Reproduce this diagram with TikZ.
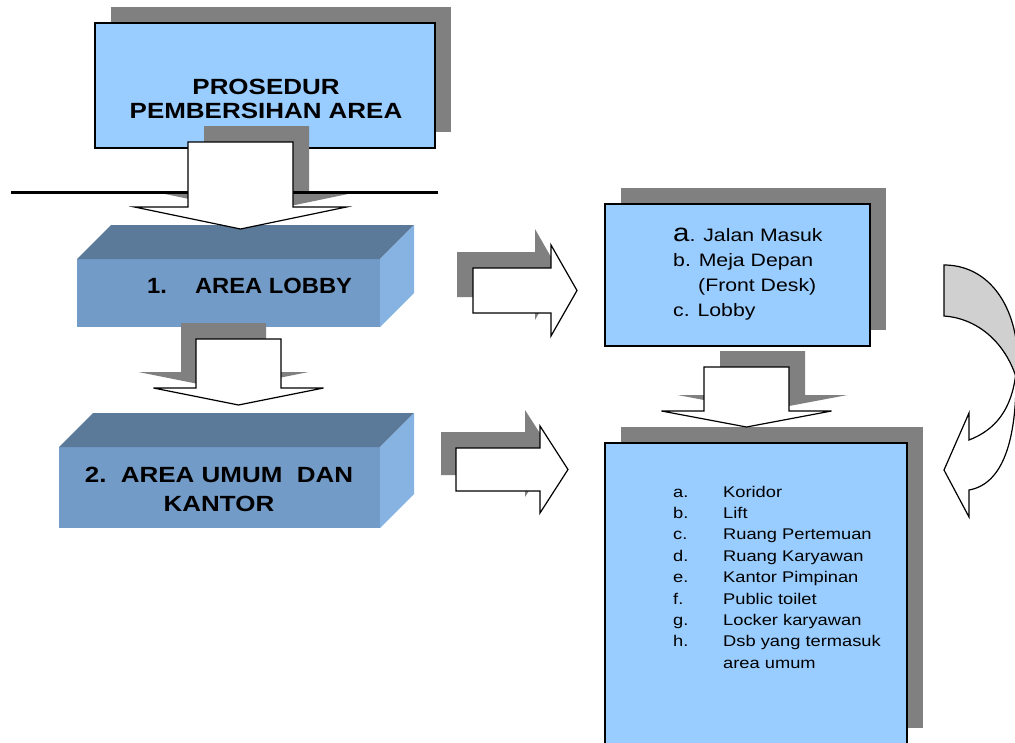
\documentclass[tikz,border=0pt]{standalone}
\usepackage{fontspec}
\setmainfont{Liberation Sans}[FakeStretch=1.18]
\newfontfamily\lobbyfont{Liberation Sans}[FakeStretch=1.08]
\usepackage{tikz}
\usetikzlibrary{shadows}
\definecolor{boxblue}{RGB}{153,204,255}
\definecolor{shadegray}{RGB}{128,128,128}
\definecolor{faceFront}{RGB}{115,155,199}
\definecolor{faceTop}{RGB}{91,121,152}
\definecolor{faceSide}{RGB}{134,179,225}
\definecolor{curvegray}{RGB}{208,208,208}

% block arrows: #1 start, #2 shaft half width, #3 shaft length,
% #4 head half width, #5 head length, #6 style
\newcommand{\downblock}[6]{%
  \path[#6] (#1) ++(-#2,0) -- ++(0,#3) -- ++({#2-#4},0) -- ++(#4,#5)
    -- ++(#4,-#5) -- ++({#2-#4},0) -- ++(0,-#3) -- cycle;}
\newcommand{\rightblock}[6]{%
  \path[#6] (#1) ++(0,-#2) -- ++(#3,0) -- ++(0,{#2-#4}) -- ++(#5,#4)
    -- ++(-#5,#4) -- ++(0,{#2-#4}) -- ++(-#3,0) -- cycle;}

\begin{document}
\begin{tikzpicture}[x=1pt,y=-1pt,
    shade/.style={fill=shadegray,draw=none},
    blockarrow/.style={fill=white,draw=black,line width=1.2pt,line join=miter},
    listbox/.style={draw=black,line width=1.8pt,fill=boxblue,inner sep=0pt,outer sep=0pt,
      drop shadow={shadow xshift=16pt,shadow yshift=16pt,fill=shadegray,draw=none,opacity=1}},
    front/.style={fill=faceFront,inner sep=0pt,outer sep=0pt},
    bigtext/.style={inner sep=0pt,font=\fontsize{22}{24}\selectfont\bfseries}]
    \useasboundingbox (0,0) rectangle (1015,742);
    \clip (0,0) rectangle (1015,742);

    % Title box
    \node[listbox,line width=1.5pt,minimum width=340pt,minimum height=125pt] (title) at (265,85.5) {};
    \node[bigtext,anchor=base] (titletxt) at (266,94)
      {\begin{tabular}[t]{@{}c@{}}PROSEDUR\\PEMBERSIHAN AREA\end{tabular}};

    % 3D area boxes
    \node[front,minimum width=303pt,minimum height=68pt] (lobby) at (228.5,293) {};
    \node[front,minimum width=321pt,minimum height=81pt] (umum) at (219.5,487.5) {};
    \foreach \b in {lobby,umum} {
      \fill[faceTop] (\b.north west) -- ++(34,-34) -- ([shift={(34,-34)}]\b.north east) -- (\b.north east) -- cycle;
      \fill[faceSide] (\b.north east) -- ++(34,-34) -- ([shift={(34,-34)}]\b.south east) -- (\b.south east) -- cycle;
    }
    \node[inner sep=0pt,anchor=base west,font=\fontsize{22}{24}\selectfont\lobbyfont\bfseries] (lobbytxt) at (147,293)
      {1.\hspace{28pt}AREA LOBBY};
    \node[inner sep=0pt,anchor=base,font=\fontsize{22}{29}\selectfont\bfseries] (umumtxt) at (219,482)
      {\begin{tabular}[t]{@{}c@{}}2.\ \ AREA UMUM\ \ DAN\\KANTOR\end{tabular}};

    % List boxes
    \node[listbox,minimum width=265pt,minimum height=142pt] (lobbylist) at (737.5,275) {};
    \node[inner sep=0pt,anchor=base west,font=\fontsize{18}{25}\selectfont] (lobbyitems) at (673,241)
      {\begin{tabular}[t]{@{}l@{}}{\fontsize{25}{25}\selectfont a}. Jalan Masuk\\
        b. Meja Depan\\ \hspace*{25pt}(Front Desk)\\ c. Lobby\end{tabular}};
    \node[listbox,minimum width=302pt,minimum height=301pt] (umumlist) at (756,593.5) {};
    \node[inner sep=0pt,anchor=base west,font=\fontsize{15.5}{21.4}\selectfont] (umumitems) at (673,497)
      {\begin{tabular}[t]{@{}p{50pt}@{}l@{}}
        a. & Koridor\\ b. & Lift\\ c. & Ruang Pertemuan\\ d. & Ruang Karyawan\\
        e. & Kantor Pimpinan\\ f. & Public toilet\\ g. & Locker karyawan\\
        h. & Dsb yang termasuk\\ & area umum\end{tabular}};

    % Block arrows
    \coordinate (down1) at (240.5,142);
    \coordinate (down2) at (238.5,339);
    \coordinate (down3) at (746.5,367);
    \coordinate (right1) at (473,290.5);
    \coordinate (right2) at (456,469.5);

    \downblock{[shift={(16,-16)}]down1}{52.5}{65}{106}{22}{shade}
    \draw[line width=3pt] (11,192) -- (438,192);
    \downblock{down1}{52.5}{65}{106}{22}{blockarrow}

    \downblock{[shift={(-15,-16)}]down2}{42.5}{49}{85}{17}{shade}
    \downblock{down2}{42.5}{49}{85}{17}{blockarrow}

    \downblock{[shift={(16,-16)}]down3}{42.5}{44}{85}{16}{shade}
    \downblock{down3}{42.5}{44}{85}{16}{blockarrow}

    \rightblock{[shift={(-16,-16)}]right1}{22.5}{78}{45.5}{26}{shade}
    \rightblock{right1}{22.5}{78}{45.5}{26}{blockarrow}

    \rightblock{[shift={(-15,-16)}]right2}{21.5}{84}{43.5}{28}{shade}
    \rightblock{right2}{21.5}{84}{43.5}{28}{blockarrow}

    % Curved arrow at the right edge
    \draw[fill=curvegray,line width=1.2pt] (944,265) .. controls (985,265) and (1016,300) .. (1018,360)
      -- (1040,390) -- (1017,380) .. controls (1005,340) and (975,318) .. (944,316) -- cycle;
    \draw[fill=white,line width=1.2pt,line join=miter] (1016,372) .. controls (1017,440) and (1003,484) .. (969,490)
      -- (969,517) -- (944,470) -- (969,413) -- (969,440)
      .. controls (995,430) and (1012,410) .. (1016,372) -- cycle;
  \end{tikzpicture}
\end{document}
